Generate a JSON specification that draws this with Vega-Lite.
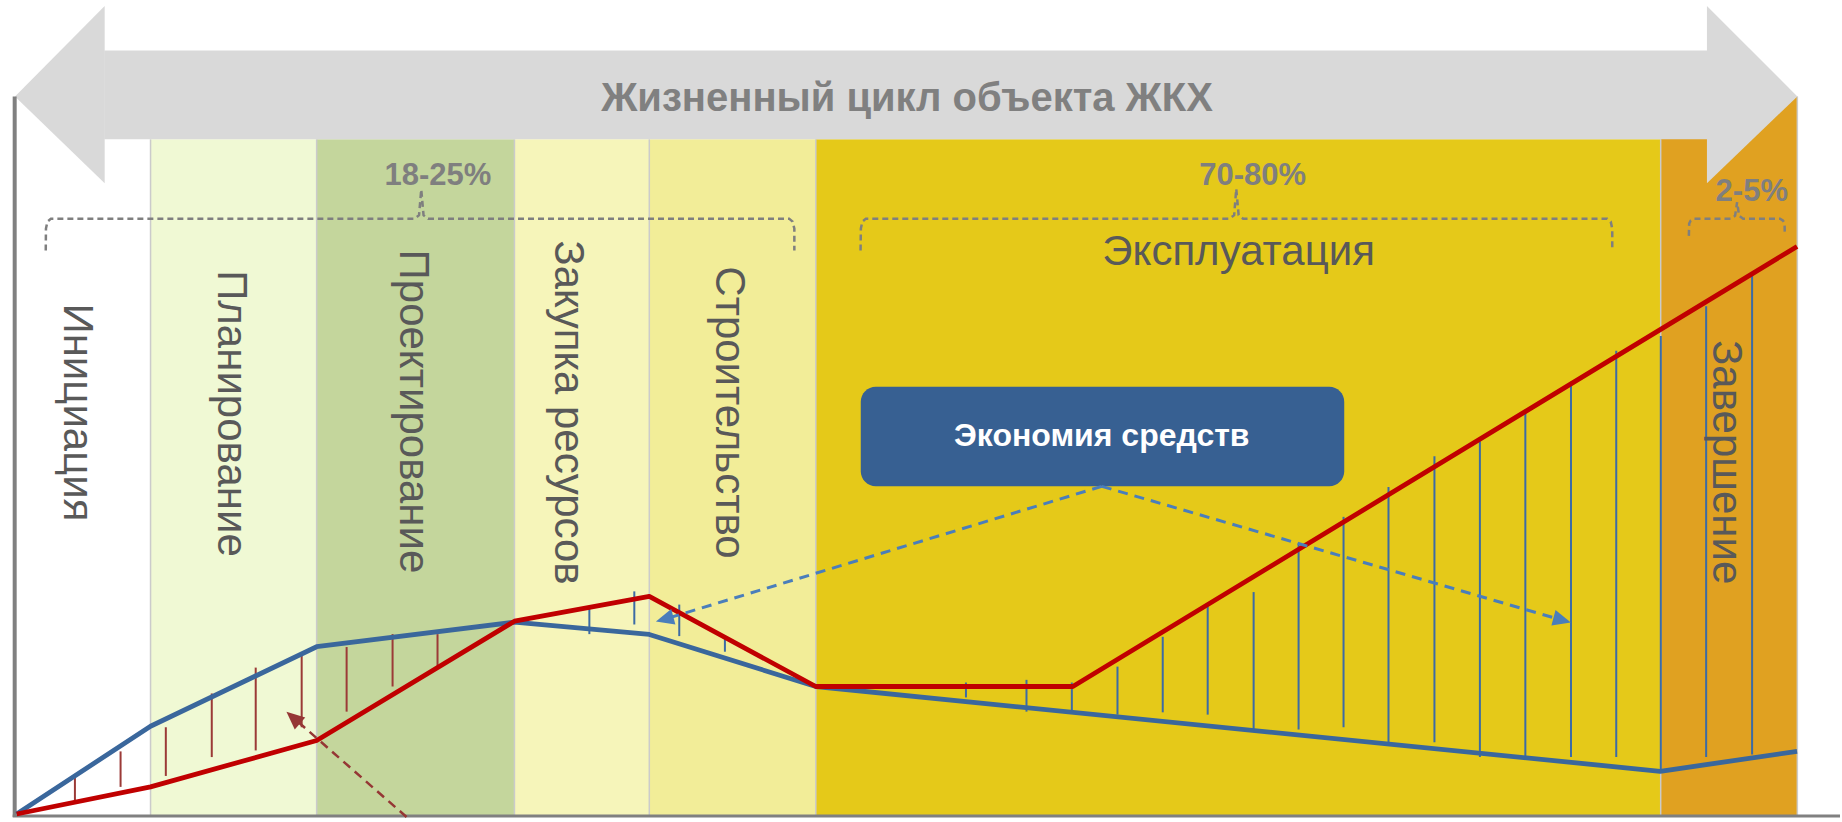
{
  "$schema": "https://vega.github.io/schema/vega-lite/v6.json",
  "width": 1842,
  "height": 822,
  "padding": 0,
  "autosize": {"type": "fit", "contains": "padding"},
  "background": "white",
  "config": {"view": {"stroke": null}, "font": "Liberation Sans"},
  "datasets": {
    "bands": [
      {"phase": "Инициация", "x0": 15, "x1": 150.7, "top": 680},
      {"phase": "Планирование", "x0": 150.7, "x1": 317, "top": 680},
      {"phase": "Проектирование", "x0": 317, "x1": 515, "top": 680},
      {"phase": "Закупка ресурсов", "x0": 515, "x1": 650, "top": 680},
      {"phase": "Строительство", "x0": 650, "x1": 816.7, "top": 680},
      {"phase": "Эксплуатация", "x0": 816.7, "x1": 1662.5, "top": 680},
      {"phase": "Завершение", "x0": 1662.5, "x1": 1799.3, "top": 723}
    ],
    "bannerHeads": [
      {"part": "left", "x": 15, "lo": 723, "hi": 723},
      {"part": "left", "x": 104.8, "lo": 635.7, "hi": 814},
      {"part": "right", "x": 1708.8, "lo": 635.7, "hi": 814},
      {"part": "right", "x": 1799.3, "lo": 723, "hi": 723}
    ],
    "lines": [
      {"series": "Затраты 1", "i": 0, "x": 16.7, "v": 1},
      {"series": "Затраты 1", "i": 1, "x": 150.7, "v": 89.3},
      {"series": "Затраты 1", "i": 2, "x": 317, "v": 169.3},
      {"series": "Затраты 1", "i": 3, "x": 515, "v": 194},
      {"series": "Затраты 1", "i": 4, "x": 650, "v": 181.7},
      {"series": "Затраты 1", "i": 5, "x": 816.7, "v": 129.3},
      {"series": "Затраты 1", "i": 6, "x": 1662, "v": 44},
      {"series": "Затраты 1", "i": 7, "x": 1799, "v": 64},
      {"series": "Затраты 2", "i": 0, "x": 16.7, "v": 1},
      {"series": "Затраты 2", "i": 1, "x": 150.7, "v": 28.3},
      {"series": "Затраты 2", "i": 2, "x": 317, "v": 75},
      {"series": "Затраты 2", "i": 3, "x": 515, "v": 195},
      {"series": "Затраты 2", "i": 4, "x": 650, "v": 220},
      {"series": "Затраты 2", "i": 5, "x": 816.7, "v": 129.3},
      {"series": "Затраты 2", "i": 6, "x": 1074, "v": 129.3},
      {"series": "Затраты 2", "i": 7, "x": 1799, "v": 572}
    ],
    "hatches": [
      {"grp": "a", "x": 75, "v0": 38.3, "v1": 13.3},
      {"grp": "a", "x": 120.7, "v0": 64, "v1": 28.3},
      {"grp": "a", "x": 166, "v0": 88.3, "v1": 39.3},
      {"grp": "a", "x": 212, "v0": 122.3, "v1": 58.3},
      {"grp": "a", "x": 256, "v0": 148.3, "v1": 65},
      {"grp": "a", "x": 302, "v0": 163.3, "v1": 88.3},
      {"grp": "a", "x": 347, "v0": 169, "v1": 104},
      {"grp": "a", "x": 393, "v0": 182, "v1": 129.3},
      {"grp": "a", "x": 438, "v0": 182, "v1": 149.3},
      {"grp": "b", "x": 590, "v0": 210, "v1": 182},
      {"grp": "b", "x": 635, "v0": 225, "v1": 191.7},
      {"grp": "b", "x": 680, "v0": 211.7, "v1": 180},
      {"grp": "b", "x": 725.7, "v0": 179.3, "v1": 164.3},
      {"grp": "b", "x": 967, "v0": 133.3, "v1": 118.3},
      {"grp": "b", "x": 1027.6, "v0": 136, "v1": 104},
      {"grp": "b", "x": 1073, "v0": 133.3, "v1": 104},
      {"grp": "b", "x": 1118.7, "v0": 149.3, "v1": 101},
      {"grp": "b", "x": 1164, "v0": 179.3, "v1": 103.3},
      {"grp": "b", "x": 1209, "v0": 210, "v1": 101},
      {"grp": "b", "x": 1255, "v0": 224.3, "v1": 86},
      {"grp": "b", "x": 1300, "v0": 273.3, "v1": 86},
      {"grp": "b", "x": 1345, "v0": 300, "v1": 88.3},
      {"grp": "b", "x": 1390, "v0": 330, "v1": 73.3},
      {"grp": "b", "x": 1436, "v0": 361, "v1": 73.3},
      {"grp": "b", "x": 1481.5, "v0": 376, "v1": 58.3},
      {"grp": "b", "x": 1527, "v0": 405, "v1": 58.3},
      {"grp": "b", "x": 1572.7, "v0": 436, "v1": 58.3},
      {"grp": "b", "x": 1618, "v0": 467, "v1": 58.3},
      {"grp": "b", "x": 1662.6, "v0": 482, "v1": 46},
      {"grp": "b", "x": 1708, "v0": 512, "v1": 58.3},
      {"grp": "b", "x": 1754, "v0": 543, "v1": 61}
    ],
    "braces": [
      {"b": 1, "i": 0, "x": 45.8, "v": 568},
      {"b": 1, "i": 1, "x": 46, "v": 590},
      {"b": 1, "i": 2, "x": 47.5, "v": 597},
      {"b": 1, "i": 3, "x": 51, "v": 600},
      {"b": 1, "i": 4, "x": 415, "v": 600},
      {"b": 1, "i": 5, "x": 419.5, "v": 603.5},
      {"b": 1, "i": 6, "x": 421.7, "v": 629.3},
      {"b": 1, "i": 7, "x": 424, "v": 603.5},
      {"b": 1, "i": 8, "x": 428.5, "v": 600},
      {"b": 1, "i": 9, "x": 790, "v": 600},
      {"b": 1, "i": 10, "x": 793.5, "v": 597},
      {"b": 1, "i": 11, "x": 795.2, "v": 590},
      {"b": 1, "i": 12, "x": 795.2, "v": 568},
      {"b": 2, "i": 0, "x": 861.5, "v": 568},
      {"b": 2, "i": 1, "x": 861.8, "v": 590},
      {"b": 2, "i": 2, "x": 863.3, "v": 597},
      {"b": 2, "i": 3, "x": 866.8, "v": 600},
      {"b": 2, "i": 4, "x": 1231, "v": 600},
      {"b": 2, "i": 5, "x": 1235.5, "v": 603.5},
      {"b": 2, "i": 6, "x": 1237.6, "v": 630},
      {"b": 2, "i": 7, "x": 1240, "v": 603.5},
      {"b": 2, "i": 8, "x": 1244.5, "v": 600},
      {"b": 2, "i": 9, "x": 1609, "v": 600},
      {"b": 2, "i": 10, "x": 1612.5, "v": 597},
      {"b": 2, "i": 11, "x": 1614, "v": 590},
      {"b": 2, "i": 12, "x": 1614, "v": 568},
      {"b": 3, "i": 0, "x": 1690.7, "v": 582.7},
      {"b": 3, "i": 1, "x": 1691, "v": 595},
      {"b": 3, "i": 2, "x": 1692.5, "v": 598},
      {"b": 3, "i": 3, "x": 1695.5, "v": 600},
      {"b": 3, "i": 4, "x": 1733, "v": 600},
      {"b": 3, "i": 5, "x": 1737, "v": 603},
      {"b": 3, "i": 6, "x": 1739, "v": 616.7},
      {"b": 3, "i": 7, "x": 1741, "v": 603},
      {"b": 3, "i": 8, "x": 1745, "v": 600},
      {"b": 3, "i": 9, "x": 1782, "v": 600},
      {"b": 3, "i": 10, "x": 1785, "v": 598},
      {"b": 3, "i": 11, "x": 1786.5, "v": 595},
      {"b": 3, "i": 12, "x": 1786.7, "v": 586.7}
    ],
    "darrows": [
      {"a": "red", "i": 0, "x": 407, "v": -2},
      {"a": "red", "i": 1, "x": 294.3, "v": 97.4},
      {"a": "left", "i": 0, "x": 1103, "v": 330.7},
      {"a": "left", "i": 1, "x": 666.3, "v": 197.3},
      {"a": "right", "i": 0, "x": 1103, "v": 330.7},
      {"a": "right", "i": 1, "x": 1562.9, "v": 196.3}
    ],
    "heads": [
      {"a": "red", "x": 294.3, "v": 97.4},
      {"a": "left", "x": 666.3, "v": 197.3},
      {"a": "right", "x": 1562.9, "v": 196.3}
    ],
    "phaseLabels": [
      {"label": "Инициация", "x": 77, "v": 405},
      {"label": "Планирование", "x": 231, "v": 404},
      {"label": "Проектирование", "x": 413, "v": 406},
      {"label": "Закупка ресурсов", "x": 569, "v": 405},
      {"label": "Строительство", "x": 730, "v": 405},
      {"label": "Завершение", "x": 1728, "v": 355}
    ],
    "pct": [
      {"label": "18-25%", "x": 438.4, "v": 634.3},
      {"label": "70-80%", "x": 1254, "v": 633.5},
      {"label": "2-5%", "x": 1753.7, "v": 617.7}
    ],
    "separators": [
      {"x": 150.7, "top": 680},
      {"x": 317, "top": 680},
      {"x": 515, "top": 680},
      {"x": 650, "top": 680},
      {"x": 816.7, "top": 680},
      {"x": 1662.5, "top": 680},
      {"x": 1799.3, "top": 723}
    ]
  },
  "layer": [
    {
      "data": {"name": "bands"},
      "mark": {"type": "rect"},
      "encoding": {
        "x": {"field": "x0", "type": "quantitative", "scale": {"domain": [0, 1842], "nice": false, "zero": false}, "axis": null},
        "x2": {"field": "x1"},
        "y": {"field": "top", "type": "quantitative", "scale": {"domain": [-2, 820], "nice": false, "zero": false}, "axis": null},
        "y2": {"datum": 0},
        "color": {"field": "phase", "type": "nominal", "legend": null,
          "scale": {"domain": ["Инициация", "Планирование", "Проектирование", "Закупка ресурсов", "Строительство", "Эксплуатация", "Завершение"],
                    "range": ["#FFFFFF", "#F0F9D4", "#C4D69C", "#F6F5BA", "#F2ED98", "#E5C919", "#E0A121"]}}
      }
    },
    {
      "data": {"name": "separators"},
      "mark": {"type": "rule", "color": "#CBCBCB", "strokeWidth": 1.5},
      "encoding": {
        "x": {"field": "x", "type": "quantitative", "scale": {"domain": [0, 1842], "nice": false, "zero": false}, "axis": null},
        "y": {"field": "top", "type": "quantitative", "scale": {"domain": [-2, 820], "nice": false, "zero": false}, "axis": null},
        "y2": {"datum": 0}
      }
    },
    {
      "data": {"values": [{"x0": 104.3, "x1": 1709.3, "lo": 680, "hi": 769.3}]},
      "mark": {"type": "rect", "color": "#D9D9D9"},
      "encoding": {
        "x": {"field": "x0", "type": "quantitative", "scale": {"domain": [0, 1842], "nice": false, "zero": false}, "axis": null},
        "x2": {"field": "x1"},
        "y": {"field": "hi", "type": "quantitative", "scale": {"domain": [-2, 820], "nice": false, "zero": false}, "axis": null},
        "y2": {"field": "lo"}
      }
    },
    {
      "data": {"name": "bannerHeads"},
      "mark": {"type": "area", "color": "#D9D9D9", "opacity": 1},
      "encoding": {
        "x": {"field": "x", "type": "quantitative", "scale": {"domain": [0, 1842], "nice": false, "zero": false}, "axis": null},
        "y": {"field": "hi", "type": "quantitative", "scale": {"domain": [-2, 820], "nice": false, "zero": false}, "axis": null, "stack": null},
        "y2": {"field": "lo"},
        "detail": {"field": "part", "type": "nominal"}
      }
    },
    {
      "data": {"values": [{"x": 14.7, "v0": -2, "v1": 723}]},
      "mark": {"type": "rule", "color": "#808080", "strokeWidth": 4},
      "encoding": {
        "x": {"field": "x", "type": "quantitative", "scale": {"domain": [0, 1842], "nice": false, "zero": false}, "axis": null},
        "y": {"field": "v0", "type": "quantitative", "scale": {"domain": [-2, 820], "nice": false, "zero": false}, "axis": null},
        "y2": {"field": "v1"}
      }
    },
    {
      "data": {"values": [{"x0": 12.7, "x1": 1842, "v": -1}]},
      "mark": {"type": "rule", "color": "#808080", "strokeWidth": 3},
      "encoding": {
        "x": {"field": "x0", "type": "quantitative", "scale": {"domain": [0, 1842], "nice": false, "zero": false}, "axis": null},
        "x2": {"field": "x1"},
        "y": {"field": "v", "type": "quantitative", "scale": {"domain": [-2, 820], "nice": false, "zero": false}, "axis": null}
      }
    },
    {
      "data": {"name": "braces"},
      "mark": {"type": "line", "color": "#7F7F7F", "strokeWidth": 2.5, "strokeDash": [6, 4]},
      "encoding": {
        "x": {"field": "x", "type": "quantitative", "scale": {"domain": [0, 1842], "nice": false, "zero": false}, "axis": null},
        "y": {"field": "v", "type": "quantitative", "scale": {"domain": [-2, 820], "nice": false, "zero": false}, "axis": null},
        "detail": {"field": "b", "type": "nominal"},
        "order": {"field": "i", "type": "quantitative"}
      }
    },
    {
      "data": {"values": [{"label": "Жизненный цикл объекта ЖКХ", "x": 908, "v": 708.3}]},
      "mark": {"type": "text", "font": "Liberation Sans", "fontSize": 40, "fontWeight": "bold", "color": "#808080", "align": "center", "baseline": "alphabetic"},
      "encoding": {
        "x": {"field": "x", "type": "quantitative", "scale": {"domain": [0, 1842], "nice": false, "zero": false}, "axis": null},
        "y": {"field": "v", "type": "quantitative", "scale": {"domain": [-2, 820], "nice": false, "zero": false}, "axis": null},
        "text": {"field": "label"}
      }
    },
    {
      "data": {"name": "pct"},
      "mark": {"type": "text", "font": "Liberation Sans", "fontSize": 31, "fontWeight": "bold", "color": "#7F7F7F", "align": "center", "baseline": "alphabetic"},
      "encoding": {
        "x": {"field": "x", "type": "quantitative", "scale": {"domain": [0, 1842], "nice": false, "zero": false}, "axis": null},
        "y": {"field": "v", "type": "quantitative", "scale": {"domain": [-2, 820], "nice": false, "zero": false}, "axis": null},
        "text": {"field": "label"}
      }
    },
    {
      "data": {"values": [{"label": "Эксплуатация", "x": 1240, "v": 553}]},
      "mark": {"type": "text", "font": "Liberation Sans", "fontSize": 42, "color": "#595959", "align": "center", "baseline": "alphabetic"},
      "encoding": {
        "x": {"field": "x", "type": "quantitative", "scale": {"domain": [0, 1842], "nice": false, "zero": false}, "axis": null},
        "y": {"field": "v", "type": "quantitative", "scale": {"domain": [-2, 820], "nice": false, "zero": false}, "axis": null},
        "text": {"field": "label"}
      }
    },
    {
      "data": {"name": "hatches"},
      "mark": {"type": "rule", "strokeWidth": 2},
      "encoding": {
        "x": {"field": "x", "type": "quantitative", "scale": {"domain": [0, 1842], "nice": false, "zero": false}, "axis": null},
        "y": {"field": "v0", "type": "quantitative", "scale": {"domain": [-2, 820], "nice": false, "zero": false}, "axis": null},
        "y2": {"field": "v1"},
        "color": {"field": "grp", "type": "nominal", "legend": null, "scale": {"domain": ["a", "b"], "range": ["#9B3A37", "#3C6BA5"]}}
      }
    },
    {
      "data": {"name": "phaseLabels"},
      "mark": {"type": "text", "font": "Liberation Sans", "fontSize": 42, "color": "#595959", "align": "center", "baseline": "middle", "angle": 90},
      "encoding": {
        "x": {"field": "x", "type": "quantitative", "scale": {"domain": [0, 1842], "nice": false, "zero": false}, "axis": null},
        "y": {"field": "v", "type": "quantitative", "scale": {"domain": [-2, 820], "nice": false, "zero": false}, "axis": null},
        "text": {"field": "label"}
      }
    },
    {
      "data": {"name": "lines"},
      "mark": {"type": "line", "strokeWidth": 4.8, "strokeJoin": "round"},
      "encoding": {
        "x": {"field": "x", "type": "quantitative", "scale": {"domain": [0, 1842], "nice": false, "zero": false}, "axis": null},
        "y": {"field": "v", "type": "quantitative", "scale": {"domain": [-2, 820], "nice": false, "zero": false}, "axis": null},
        "order": {"field": "i", "type": "quantitative"},
        "color": {"field": "series", "type": "nominal", "legend": null, "scale": {"domain": ["Затраты 1", "Затраты 2"], "range": ["#3A679C", "#C00000"]}}
      }
    },
    {
      "data": {"values": [{"x0": 861.7, "x1": 1345.7, "top": 431, "bottom": 330.7}]},
      "mark": {"type": "rect", "color": "#376092", "cornerRadius": 15},
      "encoding": {
        "x": {"field": "x0", "type": "quantitative", "scale": {"domain": [0, 1842], "nice": false, "zero": false}, "axis": null},
        "x2": {"field": "x1"},
        "y": {"field": "top", "type": "quantitative", "scale": {"domain": [-2, 820], "nice": false, "zero": false}, "axis": null},
        "y2": {"field": "bottom"}
      }
    },
    {
      "data": {"values": [{"label": "Экономия средств", "x": 1103, "v": 371.7}]},
      "mark": {"type": "text", "font": "Liberation Sans", "fontSize": 32, "fontWeight": "bold", "color": "#FFFFFF", "align": "center", "baseline": "alphabetic"},
      "encoding": {
        "x": {"field": "x", "type": "quantitative", "scale": {"domain": [0, 1842], "nice": false, "zero": false}, "axis": null},
        "y": {"field": "v", "type": "quantitative", "scale": {"domain": [-2, 820], "nice": false, "zero": false}, "axis": null},
        "text": {"field": "label"}
      }
    },
    {
      "data": {"name": "darrows"},
      "transform": [{"filter": "datum.a === 'red'"}],
      "mark": {"type": "line", "color": "#953735", "strokeWidth": 2.5, "strokeDash": [9, 6]},
      "encoding": {
        "x": {"field": "x", "type": "quantitative", "scale": {"domain": [0, 1842], "nice": false, "zero": false}, "axis": null},
        "y": {"field": "v", "type": "quantitative", "scale": {"domain": [-2, 820], "nice": false, "zero": false}, "axis": null},
        "order": {"field": "i", "type": "quantitative"}
      }
    },
    {
      "data": {"name": "darrows"},
      "transform": [{"filter": "datum.a !== 'red'"}],
      "mark": {"type": "line", "color": "#4A7EBB", "strokeWidth": 3, "strokeDash": [10, 7]},
      "encoding": {
        "x": {"field": "x", "type": "quantitative", "scale": {"domain": [0, 1842], "nice": false, "zero": false}, "axis": null},
        "y": {"field": "v", "type": "quantitative", "scale": {"domain": [-2, 820], "nice": false, "zero": false}, "axis": null},
        "detail": {"field": "a", "type": "nominal"},
        "order": {"field": "i", "type": "quantitative"}
      }
    },
    {
      "data": {"name": "heads"},
      "transform": [{"filter": "datum.a === 'red'"}],
      "mark": {"type": "point", "shape": "M0,-1L0.8,0.8L-0.8,0.8Z", "size": 400, "filled": true, "opacity": 1, "color": "#953735", "angle": 311},
      "encoding": {
        "x": {"field": "x", "type": "quantitative", "scale": {"domain": [0, 1842], "nice": false, "zero": false}, "axis": null},
        "y": {"field": "v", "type": "quantitative", "scale": {"domain": [-2, 820], "nice": false, "zero": false}, "axis": null}
      }
    },
    {
      "data": {"name": "heads"},
      "transform": [{"filter": "datum.a === 'left'"}],
      "mark": {"type": "point", "shape": "M0,-1L0.8,0.8L-0.8,0.8Z", "size": 400, "filled": true, "opacity": 1, "color": "#4A7EBB", "angle": 255},
      "encoding": {
        "x": {"field": "x", "type": "quantitative", "scale": {"domain": [0, 1842], "nice": false, "zero": false}, "axis": null},
        "y": {"field": "v", "type": "quantitative", "scale": {"domain": [-2, 820], "nice": false, "zero": false}, "axis": null}
      }
    },
    {
      "data": {"name": "heads"},
      "transform": [{"filter": "datum.a === 'right'"}],
      "mark": {"type": "point", "shape": "M0,-1L0.8,0.8L-0.8,0.8Z", "size": 400, "filled": true, "opacity": 1, "color": "#4A7EBB", "angle": 105},
      "encoding": {
        "x": {"field": "x", "type": "quantitative", "scale": {"domain": [0, 1842], "nice": false, "zero": false}, "axis": null},
        "y": {"field": "v", "type": "quantitative", "scale": {"domain": [-2, 820], "nice": false, "zero": false}, "axis": null}
      }
    }
  ],
  "resolve": {"scale": {"color": "independent"}}
}
